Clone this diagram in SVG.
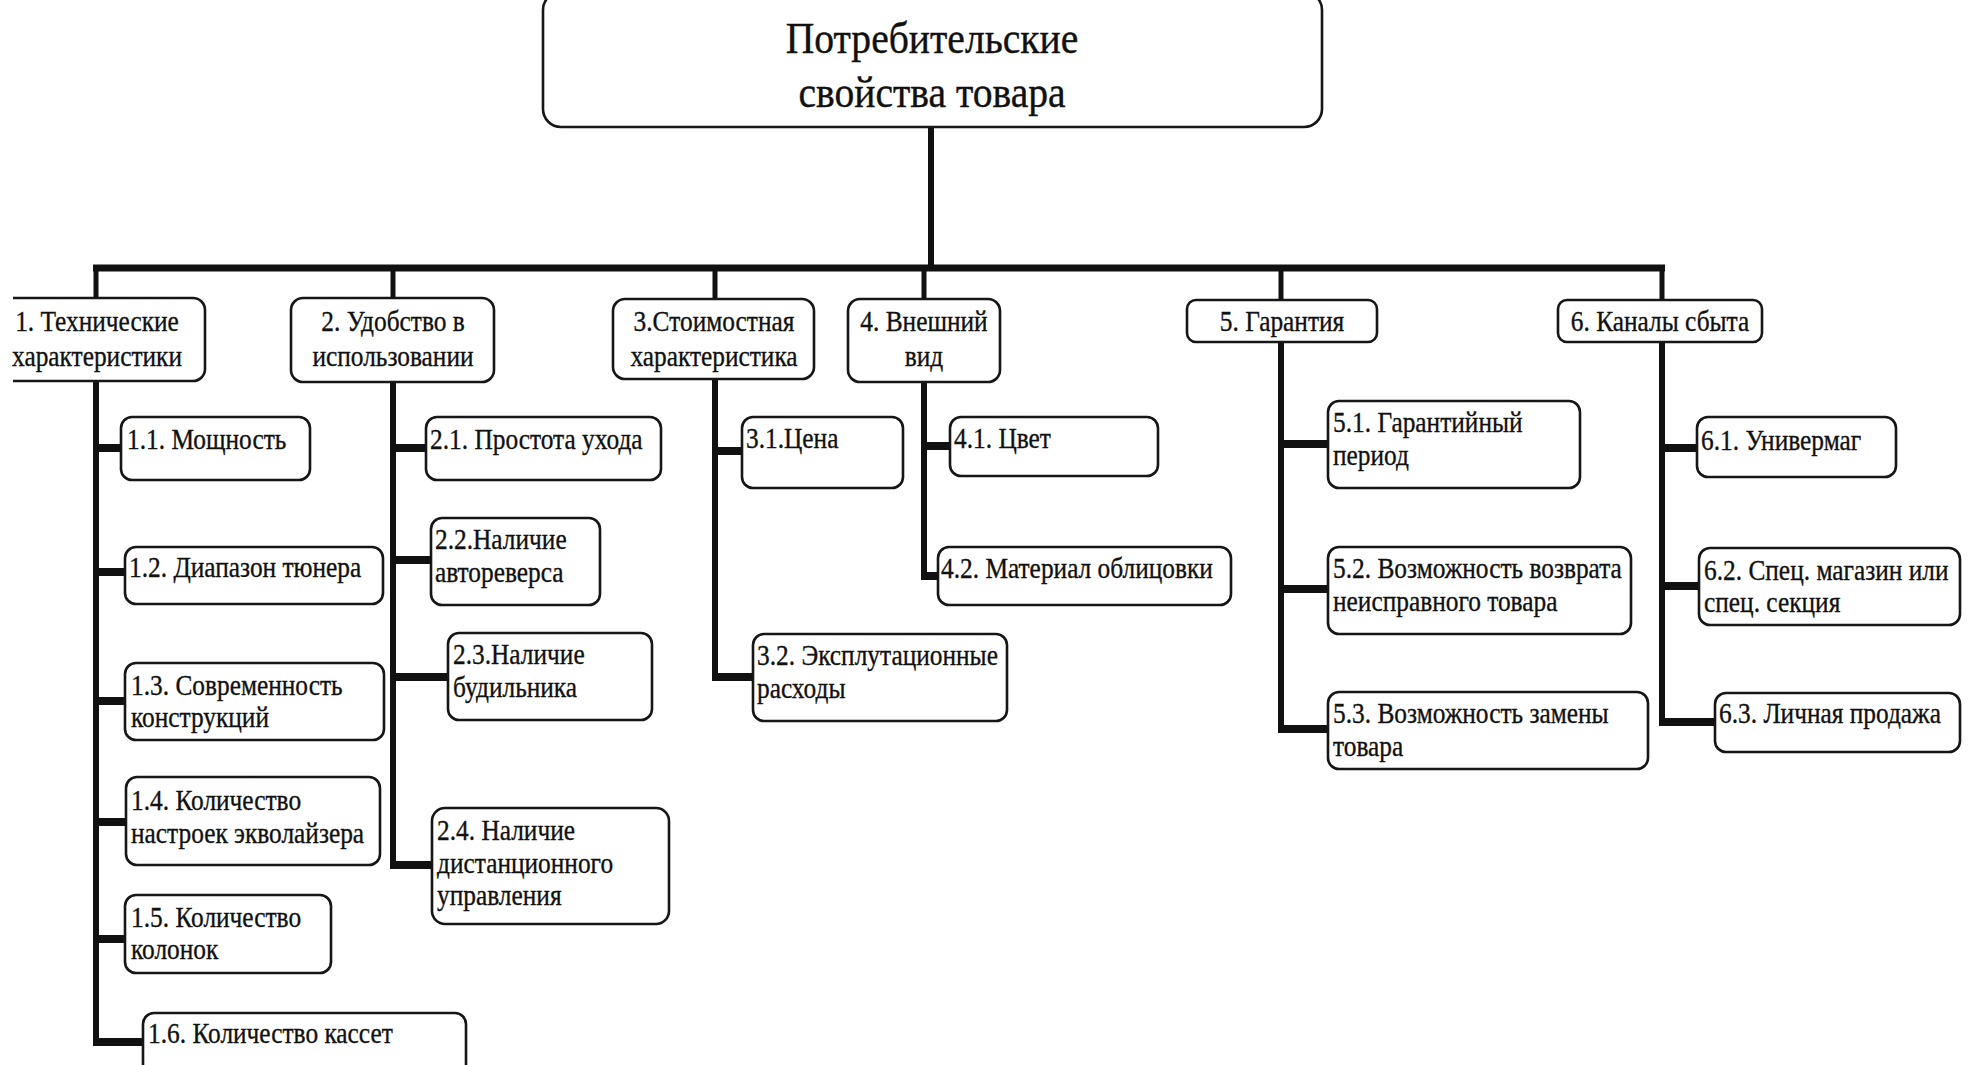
<svg xmlns="http://www.w3.org/2000/svg" width="1968" height="1065" viewBox="0 0 1968 1065">
<style>
  .bg { fill: #ffffff; }
  .box { fill: #ffffff; stroke: #161616; stroke-width: 2.6; }
  .t { font-family: "Liberation Serif", "Times New Roman", serif; font-size: 29px; fill: #111111; stroke: #111111; stroke-width: 0.35; }
  .c { text-anchor: middle; }
  .title { font-family: "Liberation Serif", "Times New Roman", serif; font-size: 44px; fill: #111111; stroke: #111111; stroke-width: 0.4; text-anchor: middle; }
  .trunk { stroke: #111111; stroke-width: 6; fill: none; }
  .bar { stroke: #111111; stroke-width: 7; fill: none; }
  .drop { stroke: #111111; stroke-width: 5; fill: none; }
  .stub { stroke: #111111; stroke-width: 8; fill: none; }
</style>
<rect class="bg" x="0" y="0" width="1968" height="1065"/>

<g id="connectors">
  <line class="trunk" x1="931" y1="127" x2="931" y2="268"/>
  <line class="bar" x1="93" y1="268" x2="1665" y2="268"/>
  <line class="drop" x1="96" y1="268" x2="96" y2="298"/>
  <line class="drop" x1="393" y1="268" x2="393" y2="298"/>
  <line class="drop" x1="715" y1="268" x2="715" y2="299"/>
  <line class="drop" x1="924" y1="268" x2="924" y2="299"/>
  <line class="drop" x1="1281" y1="268" x2="1281" y2="300"/>
  <line class="drop" x1="1662" y1="268" x2="1662" y2="300"/>

  <line class="trunk" x1="96" y1="381" x2="96" y2="1046"/>
  <line class="stub" x1="96" y1="448" x2="121" y2="448"/>
  <line class="stub" x1="96" y1="572" x2="125" y2="572"/>
  <line class="stub" x1="96" y1="701" x2="125" y2="701"/>
  <line class="stub" x1="96" y1="822" x2="126" y2="822"/>
  <line class="stub" x1="96" y1="939" x2="125" y2="939"/>
  <line class="stub" x1="93" y1="1042" x2="143" y2="1042"/>

  <line class="trunk" x1="393" y1="382" x2="393" y2="869"/>
  <line class="stub" x1="393" y1="448" x2="426" y2="448"/>
  <line class="stub" x1="393" y1="560" x2="431" y2="560"/>
  <line class="stub" x1="393" y1="677" x2="448" y2="677"/>
  <line class="stub" x1="390" y1="865" x2="432" y2="865"/>

  <line class="trunk" x1="715" y1="379" x2="715" y2="681"/>
  <line class="stub" x1="715" y1="451" x2="742" y2="451"/>
  <line class="stub" x1="712" y1="677" x2="753" y2="677"/>

  <line class="trunk" x1="924" y1="382" x2="924" y2="580"/>
  <line class="stub" x1="924" y1="446" x2="950" y2="446"/>
  <line class="stub" x1="921" y1="576" x2="938" y2="576"/>

  <line class="trunk" x1="1281" y1="342" x2="1281" y2="733"/>
  <line class="stub" x1="1281" y1="444" x2="1328" y2="444"/>
  <line class="stub" x1="1281" y1="589" x2="1328" y2="589"/>
  <line class="stub" x1="1278" y1="729" x2="1328" y2="729"/>

  <line class="trunk" x1="1662" y1="342" x2="1662" y2="726"/>
  <line class="stub" x1="1662" y1="448" x2="1697" y2="448"/>
  <line class="stub" x1="1662" y1="586" x2="1699" y2="586"/>
  <line class="stub" x1="1659" y1="722" x2="1715" y2="722"/>
</g>

<g id="root">
  <rect class="box" x="543" y="-8" width="779" height="135" rx="18"/>
  <text class="title" transform="matrix(0.9 0 0 1 932 53)"><tspan x="0" y="0">Потребительские</tspan><tspan x="0" y="54">свойства товара</tspan></text>
</g>

<g id="n1">
  <path class="box" d="M13,298 H193 A12,12 0 0 1 205,310 V369 A12,12 0 0 1 193,381 H13"/>
  <text class="t c" transform="matrix(0.875 0 0 1 97 331)"><tspan x="0" y="0">1. Технические</tspan><tspan x="0" y="35">характеристики</tspan></text>
</g>
<g id="n2">
  <rect class="box" x="291" y="298" width="203" height="84" rx="12"/>
  <text class="t c" transform="matrix(0.875 0 0 1 393 331)"><tspan x="0" y="0">2. Удобство в</tspan><tspan x="0" y="35">использовании</tspan></text>
</g>
<g id="n3">
  <rect class="box" x="613" y="299" width="201" height="80" rx="12"/>
  <text class="t c" transform="matrix(0.875 0 0 1 714 331)"><tspan x="0" y="0">3.Стоимостная</tspan><tspan x="0" y="35">характеристика</tspan></text>
</g>
<g id="n4">
  <rect class="box" x="848" y="299" width="152" height="83" rx="12"/>
  <text class="t c" transform="matrix(0.875 0 0 1 924 331)"><tspan x="0" y="0">4. Внешний</tspan><tspan x="0" y="35">вид</tspan></text>
</g>
<g id="n5">
  <rect class="box" x="1187" y="300" width="190" height="42" rx="9"/>
  <text class="t c" transform="matrix(0.875 0 0 1 1282 331)">5. Гарантия</text>
</g>
<g id="n6">
  <rect class="box" x="1558" y="300" width="204" height="42" rx="9"/>
  <text class="t c" transform="matrix(0.875 0 0 1 1660 331)">6. Каналы сбыта</text>
</g>

<g id="n1_1">
  <rect class="box" x="121" y="417" width="189" height="63" rx="11"/>
  <text class="t" transform="matrix(0.875 0 0 1 127 449)">1.1. Мощность</text>
</g>
<g id="n1_2">
  <rect class="box" x="125" y="547" width="258" height="57" rx="11"/>
  <text class="t" transform="matrix(0.875 0 0 1 129 577)">1.2. Диапазон тюнера</text>
</g>
<g id="n1_3">
  <rect class="box" x="125" y="663" width="259" height="77" rx="11"/>
  <text class="t" transform="matrix(0.875 0 0 1 131 695)"><tspan x="0" y="0">1.3. Современность</tspan><tspan x="0" y="32">конструкций</tspan></text>
</g>
<g id="n1_4">
  <rect class="box" x="126" y="777" width="254" height="88" rx="11"/>
  <text class="t" transform="matrix(0.875 0 0 1 131 810)"><tspan x="0" y="0">1.4. Количество</tspan><tspan x="0" y="33">настроек экволайзера</tspan></text>
</g>
<g id="n1_5">
  <rect class="box" x="125" y="895" width="206" height="78" rx="11"/>
  <text class="t" transform="matrix(0.875 0 0 1 131 927)"><tspan x="0" y="0">1.5. Количество</tspan><tspan x="0" y="32">колонок</tspan></text>
</g>
<g id="n1_6">
  <rect class="box" x="143" y="1013" width="323" height="90" rx="11"/>
  <text class="t" transform="matrix(0.875 0 0 1 148 1043)">1.6. Количество кассет</text>
</g>

<g id="n2_1">
  <rect class="box" x="426" y="417" width="235" height="63" rx="11"/>
  <text class="t" transform="matrix(0.875 0 0 1 430 449)">2.1. Простота ухода</text>
</g>
<g id="n2_2">
  <rect class="box" x="431" y="518" width="169" height="87" rx="11"/>
  <text class="t" transform="matrix(0.875 0 0 1 435 549)"><tspan x="0" y="0">2.2.Наличие</tspan><tspan x="0" y="33">автореверса</tspan></text>
</g>
<g id="n2_3">
  <rect class="box" x="448" y="633" width="204" height="87" rx="11"/>
  <text class="t" transform="matrix(0.875 0 0 1 453 664)"><tspan x="0" y="0">2.3.Наличие</tspan><tspan x="0" y="33">будильника</tspan></text>
</g>
<g id="n2_4">
  <rect class="box" x="432" y="808" width="237" height="116" rx="13"/>
  <text class="t" transform="matrix(0.875 0 0 1 437 840)"><tspan x="0" y="0">2.4. Наличие</tspan><tspan x="0" y="33">дистанционного</tspan><tspan x="0" y="65">управления</tspan></text>
</g>

<g id="n3_1">
  <rect class="box" x="742" y="417" width="161" height="71" rx="11"/>
  <text class="t" transform="matrix(0.875 0 0 1 746 448)">3.1.Цена</text>
</g>
<g id="n3_2">
  <rect class="box" x="753" y="634" width="254" height="87" rx="11"/>
  <text class="t" transform="matrix(0.875 0 0 1 757 665)"><tspan x="0" y="0">3.2. Эксплутационные</tspan><tspan x="0" y="33">расходы</tspan></text>
</g>

<g id="n4_1">
  <rect class="box" x="950" y="417" width="208" height="59" rx="11"/>
  <text class="t" transform="matrix(0.875 0 0 1 954 448)">4.1. Цвет</text>
</g>
<g id="n4_2">
  <rect class="box" x="938" y="547" width="293" height="58" rx="11"/>
  <text class="t" transform="matrix(0.875 0 0 1 941 578)">4.2. Материал облицовки</text>
</g>

<g id="n5_1">
  <rect class="box" x="1328" y="401" width="252" height="87" rx="11"/>
  <text class="t" transform="matrix(0.875 0 0 1 1333 432)"><tspan x="0" y="0">5.1. Гарантийный</tspan><tspan x="0" y="33">период</tspan></text>
</g>
<g id="n5_2">
  <rect class="box" x="1328" y="547" width="303" height="87" rx="11"/>
  <text class="t" transform="matrix(0.875 0 0 1 1333 578)"><tspan x="0" y="0">5.2. Возможность возврата</tspan><tspan x="0" y="33">неисправного товара</tspan></text>
</g>
<g id="n5_3">
  <rect class="box" x="1328" y="692" width="320" height="77" rx="11"/>
  <text class="t" transform="matrix(0.875 0 0 1 1333 723)"><tspan x="0" y="0">5.3. Возможность замены</tspan><tspan x="0" y="33">товара</tspan></text>
</g>

<g id="n6_1">
  <rect class="box" x="1697" y="417" width="199" height="60" rx="11"/>
  <text class="t" transform="matrix(0.875 0 0 1 1701 450)">6.1. Универмаг</text>
</g>
<g id="n6_2">
  <rect class="box" x="1699" y="548" width="261" height="77" rx="11"/>
  <text class="t" transform="matrix(0.875 0 0 1 1704 580)"><tspan x="0" y="0">6.2. Спец. магазин или</tspan><tspan x="0" y="32">спец. секция</tspan></text>
</g>
<g id="n6_3">
  <rect class="box" x="1715" y="693" width="245" height="59" rx="11"/>
  <text class="t" transform="matrix(0.875 0 0 1 1719 723)">6.3. Личная продажа</text>
</g>
</svg>
